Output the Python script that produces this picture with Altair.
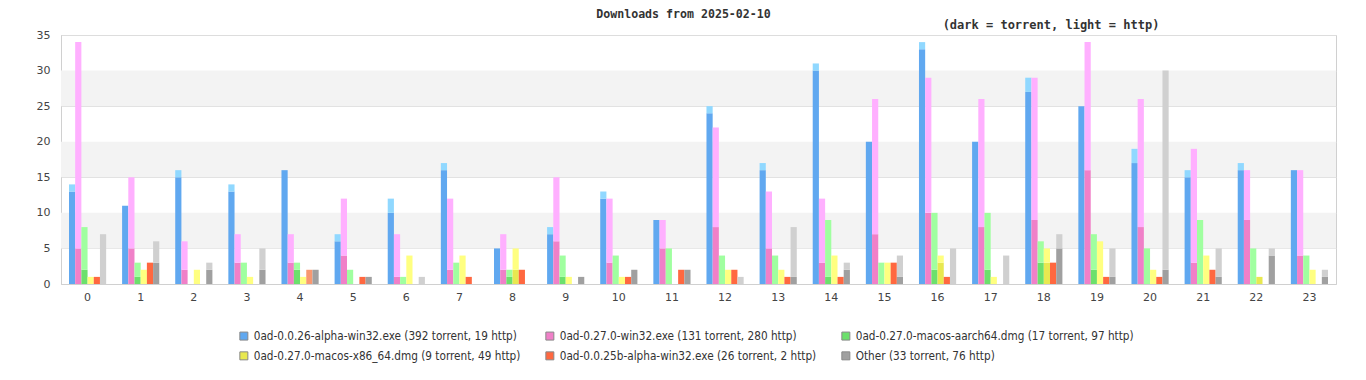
import altair as alt
import pandas as pd

hours = list(range(24))
series = [
    "0ad-0.0.26-alpha-win32.exe",
    "0ad-0.27.0-win32.exe",
    "0ad-0.27.0-macos-aarch64.dmg",
    "0ad-0.27.0-macos-x86_64.dmg",
    "0ad-0.0.25b-alpha-win32.exe",
    "Other",
]
legend_labels = [
    "0ad-0.0.26-alpha-win32.exe (392 torrent, 19 http)",
    "0ad-0.27.0-win32.exe (131 torrent, 280 http)",
    "0ad-0.27.0-macos-aarch64.dmg (17 torrent, 97 http)",
    "0ad-0.27.0-macos-x86_64.dmg (9 torrent, 49 http)",
    "0ad-0.0.25b-alpha-win32.exe (26 torrent, 2 http)",
    "Other (33 torrent, 76 http)",
]
dark_colors = ["#60a8f0", "#f080c8", "#6ce06c", "#e8e850", "#ff6840", "#a0a0a0"]
light_colors = ["#90d8ff", "#ffb0ff", "#a0ffa0", "#ffff80", "#f89870", "#d0d0d0"]

torrent_026 = [13, 11, 15, 13, 16, 6, 10, 16, 5, 7, 12, 9, 24, 16, 30, 20, 33, 20, 27, 25, 17, 15, 16, 16]
http_026 = [1, 0, 1, 1, 0, 1, 2, 1, 0, 1, 1, 0, 1, 1, 1, 0, 1, 0, 2, 0, 2, 1, 1, 0]
torrent_027w = [5, 5, 2, 3, 3, 4, 1, 2, 2, 6, 3, 5, 8, 5, 3, 7, 10, 8, 9, 16, 8, 3, 9, 4]
http_027w = [29, 10, 4, 4, 4, 8, 6, 10, 5, 9, 9, 4, 14, 8, 9, 19, 19, 18, 20, 18, 18, 16, 7, 12]
torrent_arm = [2, 1, 0, 0, 2, 0, 0, 0, 1, 1, 0, 0, 0, 0, 1, 0, 2, 2, 3, 2, 0, 0, 0, 0]
http_arm = [6, 2, 0, 3, 1, 2, 1, 3, 1, 3, 4, 5, 4, 4, 8, 3, 8, 8, 3, 5, 5, 9, 5, 4]
torrent_x86 = [0, 0, 0, 0, 0, 0, 0, 0, 2, 0, 0, 0, 0, 0, 0, 0, 3, 0, 3, 0, 0, 0, 1, 0]
http_x86 = [1, 2, 2, 1, 1, 0, 4, 4, 3, 1, 1, 0, 2, 2, 4, 3, 1, 1, 2, 6, 2, 4, 0, 2]
torrent_025 = [1, 3, 0, 0, 0, 1, 0, 1, 2, 0, 1, 2, 2, 1, 1, 3, 1, 0, 3, 1, 1, 2, 0, 0]
http_025 = [0, 0, 0, 0, 2, 0, 0, 0, 0, 0, 0, 0, 0, 0, 0, 0, 0, 0, 0, 0, 0, 0, 0, 0]
torrent_other = [0, 3, 2, 2, 2, 1, 0, 0, 0, 1, 2, 2, 0, 1, 2, 1, 0, 0, 5, 1, 2, 1, 4, 1]
http_other = [7, 3, 1, 3, 0, 0, 1, 0, 0, 0, 0, 0, 1, 7, 1, 3, 5, 4, 2, 4, 28, 4, 1, 1]

torrent_all = [torrent_026, torrent_027w, torrent_arm, torrent_x86, torrent_025, torrent_other]
http_all = [http_026, http_027w, http_arm, http_x86, http_025, http_other]

band_starts = [5, 15, 25]
band_ends = [10, 20, 30]
y_ticks = [0, 5, 10, 15, 20, 25, 30, 35]

rows = []
for i, s in enumerate(series):
    for h in hours:
        rows.append({"hour": h, "series": s, "kind": "torrent", "ord": 0,
                     "key": f"{i}t", "value": torrent_all[i][h]})
        rows.append({"hour": h, "series": s, "kind": "http", "ord": 1,
                     "key": f"{i}h", "value": http_all[i][h]})
df = pd.DataFrame(rows)

keys = []
key_colors = []
for i in range(len(series)):
    keys += [f"{i}t", f"{i}h"]
    key_colors += [dark_colors[i], light_colors[i]]

W, H = 1275, 249
yscale = alt.Scale(domain=[0, 35], nice=False)
yaxis = alt.Axis(title=None, values=y_ticks, ticks=False, labelOverlap=False,
                 labelPadding=11, minExtent=48, maxExtent=48,
                 gridColor="#dddddd", domainColor="#d0d0d0",
                 labelFont="DejaVu Sans", labelFontSize=11, labelColor="#444")

bands = alt.Chart(pd.DataFrame({"y": band_starts, "y2": band_ends})).mark_rect(
    color="#f3f3f3"
).encode(
    x=alt.value(0), x2=alt.value(W),
    y=alt.Y("y:Q", scale=yscale, axis=yaxis), y2="y2:Q",
)

bars = alt.Chart(df).mark_bar().encode(
    x=alt.X("hour:O", sort=hours,
            scale=alt.Scale(paddingInner=0.3, paddingOuter=0.15),
            axis=alt.Axis(title=None, labelAngle=0, ticks=False, labelPadding=7,
                          domainColor="#d0d0d0", labelFont="DejaVu Sans",
                          labelFontSize=11, labelColor="#444")),
    xOffset=alt.XOffset("series:N", sort=series,
                        scale=alt.Scale(paddingInner=0, paddingOuter=0)),
    y=alt.Y("value:Q", stack="zero", scale=yscale, axis=yaxis),
    color=alt.Color("key:N", scale=alt.Scale(domain=keys, range=key_colors), legend=None),
    order=alt.Order("ord:Q"),
)

legend_df = pd.DataFrame({"label": legend_labels})
legend_layer = alt.Chart(legend_df).mark_square(opacity=0).encode(
    x=alt.value(0), y=alt.value(0),
    color=alt.Color("label:N",
                    scale=alt.Scale(domain=legend_labels, range=dark_colors),
                    legend=alt.Legend(title=None, orient="none", legendX=177, legendY=295,
                                      columns=3, direction="horizontal",
                                      symbolType="square", symbolSize=64,
                                      symbolStrokeColor="#888888", symbolStrokeWidth=1,
                                      labelFont="DejaVu Sans Condensed", labelFontSize=11.7,
                                      labelColor="#333", columnPadding=22, rowPadding=6,
                                      labelLimit=400)),
)

subtitle = alt.Chart(pd.DataFrame({"t": ["(dark = torrent, light = http)"]})).mark_text(
    font="DejaVu Sans Mono", fontSize=12, fontWeight="bold", color="#333", align="center",
    baseline="middle"
).encode(x=alt.value(990), y=alt.value(-10), text="t:N")

chart = alt.layer(bands, bars, legend_layer, subtitle).resolve_scale(
    color="independent"
).properties(
    width=W, height=H,
    padding={"left": 5, "top": 1, "right": 5, "bottom": 5},
    title=alt.TitleParams("Downloads from 2025-02-10", font="DejaVu Sans Mono", fontSize=11.6,
                          fontWeight="bold", color="#333", anchor="middle", offset=-2, dx=-15),
).configure_view(stroke="#d0d0d0").configure_axis(gridWidth=1)

chart.save("out.html", embed_options={"renderer": "svg", "actions": False})
